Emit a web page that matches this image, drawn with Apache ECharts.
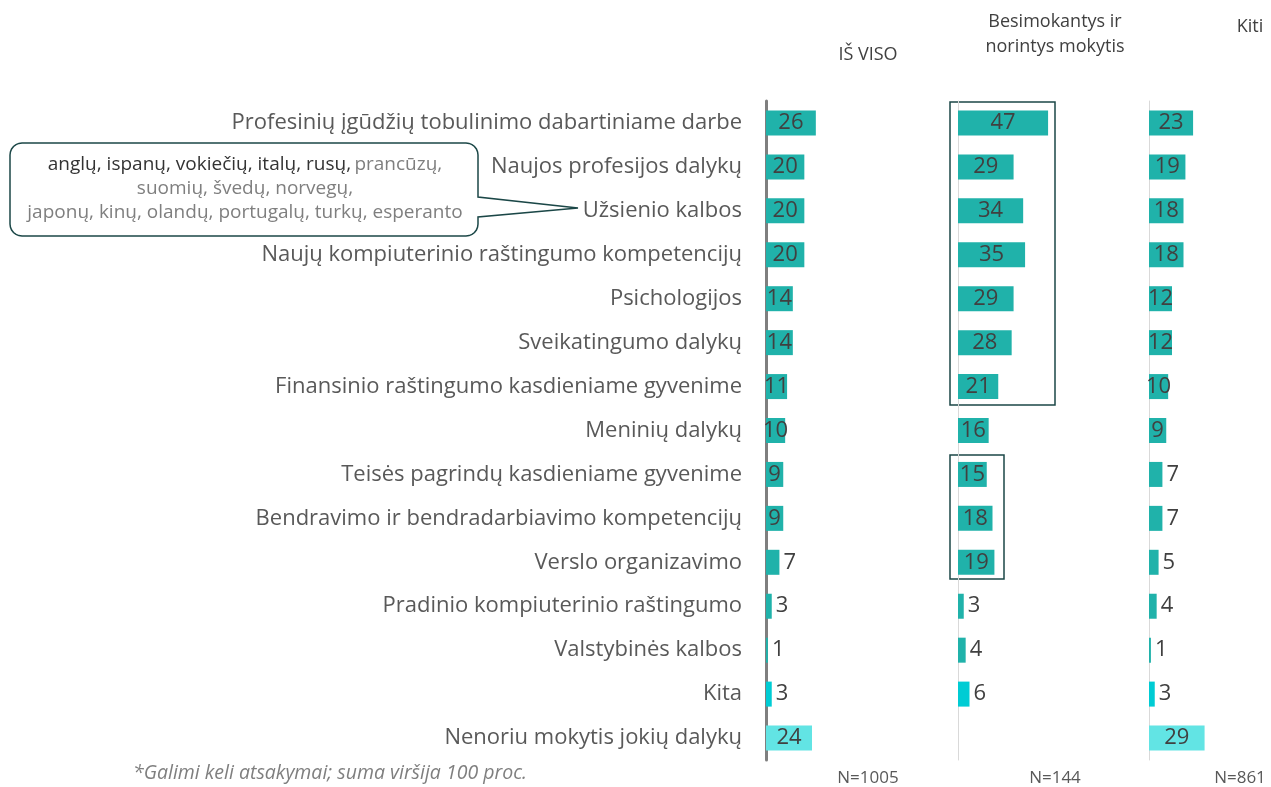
<!DOCTYPE html>
<html>
<head>
<meta charset="utf-8">
<script src="https://cdn.jsdelivr.net/npm/echarts@6/dist/echarts.min.js"></script>
<style>
  html, body { margin: 0; padding: 0; background: #fff; }
  #chart { width: 1271px; height: 787px; }
</style>
</head>
<body>
<div id="chart"></div>
<script>
const categories = [
    'Profesinių įgūdžių tobulinimo dabartiniame darbe',
    'Naujos profesijos dalykų',
    'Užsienio kalbos',
    'Naujų kompiuterinio raštingumo kompetencijų',
    'Psichologijos',
    'Sveikatingumo dalykų',
    'Finansinio raštingumo kasdieniame gyvenime',
    'Meninių dalykų',
    'Teisės pagrindų kasdieniame gyvenime',
    'Bendravimo ir bendradarbiavimo kompetencijų',
    'Verslo organizavimo',
    'Pradinio kompiuterinio raštingumo',
    'Valstybinės kalbos',
    'Kita',
    'Nenoriu mokytis jokių dalykų'
]
const isViso = [26, 20, 20, 20, 14, 14, 11, 10, 9, 9, 7, 3, 1, 3, 24]
const besimokantys = [47, 29, 34, 35, 29, 28, 21, 16, 15, 18, 19, 3, 4, 6, null]
const kiti = [23, 19, 18, 18, 12, 12, 10, 9, 7, 7, 5, 4, 1, 3, 29]
const groupTitles = ['IŠ VISO', 'Besimokantys ir\nnorintys mokytis', 'Kiti']
const groupN = ['N=1005', 'N=144', 'N=861']

const FONT = '"Open Sans", "Noto Sans", sans-serif'
const TEAL = '#20b2aa'
const KITA = '#00ccd4'
const NENORIU = '#62e4e4'

const gridLefts = [766, 958, 1149]
const gridTop = 101
const gridHeight = 659

function barData(values) {
    return values.map((v, i) => {
        if (v === null) return '-'
        let color = TEAL
        if (i === 13) color = KITA
        if (i === 14) color = NENORIU
        return {
            value: v,
            itemStyle: { color: color },
            label: v <= 7 ? { position: 'right', distance: 4 } : { position: 'inside' }
        }
    })
}

// rounded corner helper for the callout outline
function corner(cx, cy, r, a0, a1) {
    const pts = []
    for (let k = 0; k <= 6; k++) {
        const a = a0 + (a1 - a0) * k / 6
        pts.push([cx + r * Math.cos(a), cy + r * Math.sin(a)])
    }
    return pts
}

const chart = echarts.init(document.getElementById('chart'))

const grids = gridLefts.map((l) => ({ left: l, top: gridTop, width: 115, height: gridHeight }))

const xAxes = gridLefts.map((l, i) => ({
    type: 'value', gridIndex: i, min: 0, max: 60, show: false
}))

const yAxes = gridLefts.map((l, i) => ({
    type: 'category',
    gridIndex: i,
    data: categories,
    inverse: true,
    axisTick: { show: false },
    axisLine: {
        show: true,
        lineStyle: i === 0 ? { color: '#7f7f7f', width: 3 } : { color: '#d9d9d9', width: 1 }
    },
    axisLabel: {
        show: i === 0,
        color: '#595959',
        fontFamily: FONT,
        fontSize: 22,
        margin: 24
    }
}))

const allSeries = [isViso, besimokantys, kiti].map((vals, i) => ({
    type: 'bar',
    xAxisIndex: i,
    yAxisIndex: i,
    barWidth: 25,
    data: barData(vals),
    label: {
        show: true,
        color: '#404040',
        fontFamily: FONT,
        fontSize: 22
    },
    silent: true
}))

const titleX = [868, 1055, 1250]
const titleY = [55, 34, 27]
const nX = [868, 1055, 1240]

const graphics = []
groupTitles.forEach((t, i) => {
    graphics.push({
        type: 'text', x: titleX[i], y: titleY[i],
        style: {
            text: t, fill: '#404040', font: '18px ' + FONT,
            textAlign: 'center', textVerticalAlign: 'middle', lineHeight: 25
        }
    })
    graphics.push({
        type: 'text', x: nX[i], y: 778,
        style: {
            text: groupN[i], fill: '#595959', font: '17px ' + FONT,
            textAlign: 'center', textVerticalAlign: 'middle'
        }
    })
})

// highlight boxes
graphics.push({
    type: 'rect', shape: { x: 950, y: 102, width: 105, height: 303 },
    style: { fill: 'none', stroke: '#1b4747', lineWidth: 1.5 }
})
graphics.push({
    type: 'rect', shape: { x: 950, y: 455, width: 54, height: 124 },
    style: { fill: 'none', stroke: '#1b4747', lineWidth: 1.5 }
})

// callout
const R = 12
const calloutPts = [].concat(
    corner(10 + R, 143 + R, R, Math.PI, Math.PI * 1.5),
    corner(478 - R, 143 + R, R, Math.PI * 1.5, Math.PI * 2),
    [[478, 197], [578, 208], [478, 217]],
    corner(478 - R, 236 - R, R, 0, Math.PI * 0.5),
    corner(10 + R, 236 - R, R, Math.PI * 0.5, Math.PI)
)
graphics.push({
    type: 'polygon',
    shape: { points: calloutPts },
    style: { fill: '#fff', stroke: '#1b4747', lineWidth: 1.5 }
})
graphics.push({
    type: 'text', x: 245, y: 189,
    style: {
        text: '{b|anglų, ispanų, vokiečių, italų, rusų,} {l|prancūzų,}\n{l|suomių, švedų, norvegų,}\n{l|japonų, kinų, olandų, portugalų, turkų, esperanto}',
        textAlign: 'center', textVerticalAlign: 'middle',
        rich: {
            b: { fill: '#333333', fontSize: 19, fontFamily: FONT, lineHeight: 24 },
            l: { fill: '#7f7f7f', fontSize: 19, fontFamily: FONT, lineHeight: 24 }
        }
    }
})

// footnote
graphics.push({
    type: 'text', x: 133, y: 773,
    style: {
        text: '*Galimi keli atsakymai; suma viršija 100 proc.',
        fill: '#7f7f7f', font: 'italic 19.5px ' + FONT,
        textVerticalAlign: 'middle'
    }
})

chart.setOption({
    animation: false,
    grid: grids,
    xAxis: xAxes,
    yAxis: yAxes,
    series: allSeries,
    graphic: graphics
})
</script>
</body>
</html>
